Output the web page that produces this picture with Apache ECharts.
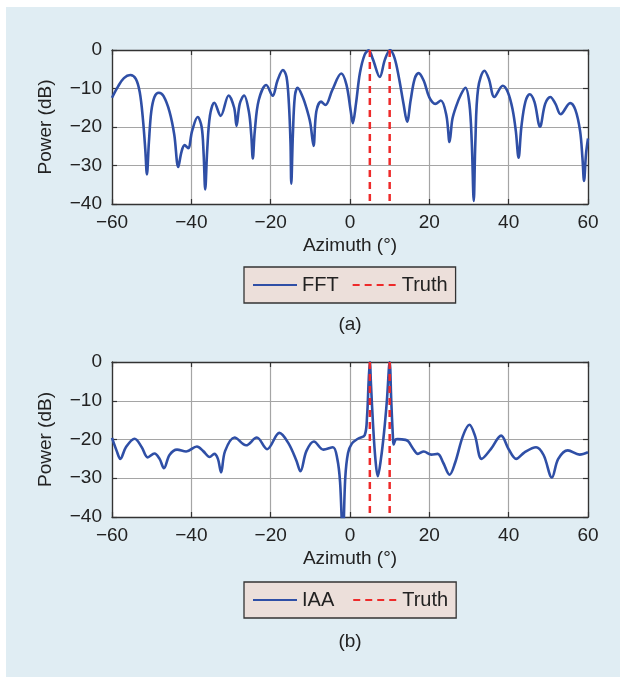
<!DOCTYPE html>
<html><head><meta charset="utf-8">
<script src="https://cdn.jsdelivr.net/npm/echarts@6/dist/echarts.min.js"></script>
<style>
html,body{margin:0;padding:0;background:#fff;}
#panel{position:absolute;left:6px;top:7px;width:614px;height:670px;background:#e0edf3;}
#chart{position:absolute;left:0;top:0;width:620px;height:677px;}
</style></head>
<body><div id="panel"></div><div id="chart"></div>
<script>
// ---- data ----
const xTickValues = [-60, -40, -20, 0, 20, 40, 60];
const yTickValues = [-40, -30, -20, -10, 0];
const truthAngles = [5, 10];

const fftData = [
  [-60,-12.4],[-58.5,-9.5],[-57,-7.3],[-55.4,-6.5],[-54,-7.5],[-53,-11],[-52.2,-18],[-51.6,-26],
  [-51.2,-32.3],[-50.7,-24],[-50.1,-16],[-49.3,-12.2],[-48.2,-11.1],[-47,-12],[-45.5,-16],[-44.3,-22],
  [-43.3,-30.4],[-42.5,-26.5],[-41.7,-24.7],[-40.8,-25.5],[-39.8,-21],[-38.4,-17.4],[-37.4,-20],
  [-36.9,-27],[-36.5,-36.2],[-36,-26],[-35.3,-17],[-34.2,-13.7],[-32.6,-17.1],[-30.6,-11.8],
  [-29.2,-15],[-28.6,-19.7],[-27.8,-14],[-26.7,-11.8],[-25.5,-16],[-24.9,-22],[-24.5,-28.2],
  [-24,-21],[-23,-13],[-21.1,-9.1],[-19.5,-11.9],[-18.3,-8],[-16.9,-5.2],[-16,-7],[-15.4,-14],
  [-15.0,-24],[-14.8,-34.7],[-14.4,-22],[-13.9,-12],[-13.2,-9.8],[-12,-12],[-11,-15],[-10,-19],
  [-9.2,-24.9],[-8.5,-16],[-7.3,-13.4],[-6.2,-14.3],[-4.5,-10.5],[-2.2,-6.1],[-0.9,-9],[0.2,-16],
  [0.7,-19.0],[1.5,-14],[2.5,-6],[3.7,-1.2],[4.7,-0.1],[5.8,-2.5],[7.5,-7.0],[8.8,-2.5],[10.1,0],
  [11.2,-2],[12.3,-7],[13.5,-14],[14.4,-18.6],[15.3,-13],[16.3,-7.5],[17.3,-6.0],[18.6,-8],
  [20,-12.3],[21.5,-14.0],[22.9,-13.1],[24.3,-17],[25.1,-23.9],[25.8,-18],[26.8,-14.5],[28,-11.5],
  [29.1,-9.8],[30.1,-14],[30.7,-24],[31.2,-39.2],[31.6,-24],[32.3,-10],[33.9,-5.4],[35,-7.5],
  [36.4,-12.2],[38.5,-9.3],[39.8,-11],[41,-15.5],[41.8,-21],[42.5,-28.0],[43.2,-20],[44.2,-13.5],
  [45.3,-11.5],[46.5,-13.5],[47.9,-19.9],[49.2,-14],[50.5,-12.2],[51.8,-14],[53.1,-16.7],
  [55.5,-13.8],[56.8,-15.5],[58,-21],[58.6,-28],[59.0,-34.0],[59.5,-27],[60,-23]
];

const iaaData = [
  [-60,-19.6],[-58.8,-23],[-57.9,-25.0],[-56.5,-22],[-54.3,-19.8],[-52.5,-22],[-51.0,-24.6],
  [-49.3,-23.6],[-48,-25],[-46.9,-27.4],[-45.5,-24],[-43.6,-22.6],[-41.3,-23.1],[-38.6,-21.8],
  [-37,-23],[-35.4,-24.5],[-34.2,-23.7],[-33.3,-25],[-32.5,-28.5],[-31.5,-23],[-29.1,-19.5],
  [-26.2,-21.5],[-23.5,-19.5],[-20.9,-22.5],[-17.8,-18.3],[-15.5,-21],[-13.5,-25.5],[-12.5,-28.2],
  [-11,-23],[-9.1,-20.5],[-6.7,-22.6],[-4.3,-22.0],[-3.2,-25],[-2.5,-31],[-1.8,-46],[-1.2,-30],
  [-0.5,-23.5],[0.5,-21],[2,-19.8],[3.7,-18.9],[4.3,-14],[4.7,-5],[5,0],[5.3,-6],[5.8,-16],
  [6.4,-25],[7.0,-29.5],[7.8,-25],[8.6,-18],[9.3,-10],[10,0],[10.4,-10],[10.8,-19],[11.0,-21.3],
  [11.5,-20],[12.0,-19.9],[14.0,-20.1],[14.7,-20.5],[16,-22.5],[17.1,-23.7],[18.6,-23.1],
  [20.5,-23.9],[22.1,-23.7],[23.5,-26],[25.1,-29.1],[26.5,-26],[28.5,-19],[30.1,-16.2],[31.5,-19],
  [33.2,-25.0],[35.5,-22.5],[38.1,-19.0],[40,-22.5],[41.9,-25.0],[44,-23.3],[46.9,-22.0],
  [48.8,-24],[50.9,-29.8],[52.5,-25],[54.9,-22.8],[57.9,-23.9],[60,-23.3]
];

// ---- styling ----
const FONT = '"Liberation Sans", Arial, Helvetica, sans-serif';
const TXT = '#222';
const BLUE = '#2f4fa6';
const RED = '#ee2a2a';
const fmt = v => String(v).replace('-', '\u2212');
const xMin = xTickValues[0], xMax = xTickValues[xTickValues.length-1];
const xInt = xTickValues[1] - xTickValues[0];
const yMin = yTickValues[0], yMax = yTickValues[yTickValues.length-1];
const yInt = yTickValues[1] - yTickValues[0];

const axisLine = {show:true, onZero:false, lineStyle:{color:'#333', width:1.3}};
const axisTick = {show:true, inside:true, length:5, lineStyle:{color:'#333', width:1.2}};
const splitLine = {show:true, lineStyle:{color:'#a5a5a5', width:1.2}};
const labelStyle = {fontSize:19, color:TXT, fontFamily:FONT};

function xAxes(gi) {
  return [
    {gridIndex:gi, type:'value', min:xMin, max:xMax, interval:xInt, position:'bottom',
     name:'Azimuth (°)', nameLocation:'middle', nameGap:32,
     nameTextStyle:{fontSize:19, color:TXT, fontFamily:FONT},
     axisLine, axisTick, splitLine,
     axisLabel:Object.assign({margin:9, formatter:fmt}, labelStyle)},
    {gridIndex:gi, type:'value', min:xMin, max:xMax, interval:xInt, position:'top',
     axisLine, axisTick, splitLine:{show:false}, axisLabel:{show:false}}
  ];
}
function yAxes(gi) {
  return [
    {gridIndex:gi, type:'value', min:yMin, max:yMax, interval:yInt, position:'left',
     name:'Power (dB)', nameLocation:'middle', nameGap:57,
     nameTextStyle:{fontSize:19, color:TXT, fontFamily:FONT},
     axisLine, axisTick, splitLine,
     axisLabel:Object.assign({margin:10, formatter:fmt}, labelStyle)},
    {gridIndex:gi, type:'value', min:yMin, max:yMax, interval:yInt, position:'right',
     axisLine, axisTick, splitLine:{show:false}, axisLabel:{show:false}}
  ];
}

function mainSeries(name, data, gi) {
  return {name, type:'line', xAxisIndex:gi*2, yAxisIndex:gi*2, data,
    smooth:0.35, symbol:'none', clip:true, z:3,
    lineStyle:{color:BLUE, width:2.6}, itemStyle:{color:BLUE}};
}
function truthSeries(gi) {
  return truthAngles.map(a => ({name:'Truth', type:'line', xAxisIndex:gi*2, yAxisIndex:gi*2,
    data:[[a, yMax], [a, yMin]], symbol:'none', z:4,
    lineStyle:{color:RED, width:2.5, type:[7,5]}, itemStyle:{color:RED}}));
}

function legendCfg(names, top, gap) {
  return {data:names, left:244, top, orient:'horizontal', padding:[7,8,7,8],
    itemWidth:44, itemHeight:14, itemGap:gap, selectedMode:false,
    itemStyle:{opacity:0},
    backgroundColor:'#ecdfda', borderColor:'#333', borderWidth:1.3,
    textStyle:{fontSize:20, color:TXT, fontFamily:FONT, lineHeight:22}};
}

const chart = echarts.init(document.getElementById('chart'), null, {renderer:'canvas'});
chart.setOption({
  backgroundColor:'transparent',
  animation:false,
  grid:[
    {left:112, top:50, width:476, height:154, show:true, backgroundColor:'#fff', borderWidth:0},
    {left:112, top:362, width:476, height:155, show:true, backgroundColor:'#fff', borderWidth:0}
  ],
  xAxis:[...xAxes(0), ...xAxes(1)],
  yAxis:[...yAxes(0), ...yAxes(1)],
  legend:[legendCfg(['FFT','Truth'], 267, 13), legendCfg(['IAA','Truth'], 582, 18)],
  graphic:[
    {type:'text', x:350, y:325, style:{text:'(a)', fontSize:19, fontFamily:FONT, fill:TXT, textAlign:'center', textVerticalAlign:'middle'}},
    {type:'text', x:350, y:642, style:{text:'(b)', fontSize:19, fontFamily:FONT, fill:TXT, textAlign:'center', textVerticalAlign:'middle'}}
  ],
  series:[
    mainSeries('FFT', fftData, 0), ...truthSeries(0),
    mainSeries('IAA', iaaData, 1), ...truthSeries(1)
  ]
});
</script>
</body></html>
